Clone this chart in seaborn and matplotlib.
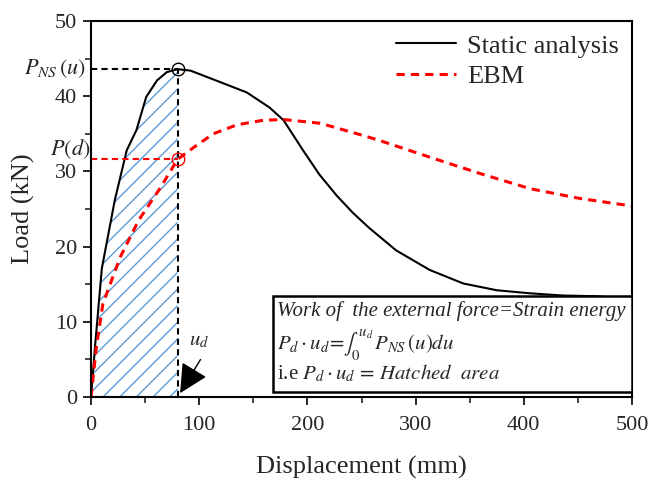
import matplotlib
matplotlib.use('Agg')
import matplotlib.pyplot as plt
import seaborn as sns
import numpy as np
from matplotlib.patches import Rectangle

# Load-displacement curves
static_x = [0, 4, 10, 22, 33, 42, 51, 61, 70, 80, 92, 119, 144, 165, 178, 196, 211,
            227, 242, 257, 282, 313, 344, 375, 405, 436, 467, 492, 500]
static_y = [0, 7.2, 17.1, 26.2, 32.8, 35.5, 39.9, 42.1, 43.2, 43.6, 43.4, 41.9, 40.5,
            38.5, 36.8, 32.8, 29.6, 26.8, 24.5, 22.5, 19.5, 16.9, 15.1, 14.2, 13.8,
            13.5, 13.4, 13.1, 13.4]
ebm_x = [0, 5, 11, 27, 44, 64, 80, 95, 113, 135, 159, 178, 212, 251, 267, 313, 360,
         406, 452, 500]
ebm_y = [0, 6.7, 12.4, 18.6, 23.5, 27.8, 31.6, 33.2, 35.0, 36.2, 36.8, 36.9, 36.4,
         34.8, 34.1, 31.9, 29.7, 27.7, 26.4, 25.4]

u_d = 80
p_ns = 43.6
p_d = 31.6

sns.set_style('ticks')
plt.rcParams['font.family'] = ['Liberation Serif', 'DejaVu Serif']
plt.rcParams['mathtext.fontset'] = 'stix'
plt.rcParams['hatch.linewidth'] = 1.0

fig = plt.figure(figsize=(6.52, 4.82), dpi=100)
ax = fig.add_axes([0.1396, 0.1763, 0.8297, 0.7801])

# hatched area under the static curve up to u_d
sx = np.array(static_x)
sy = np.array(static_y)
mask = sx <= u_d
ax.fill_between(sx[mask], sy[mask], 0, facecolor='none', edgecolor='#5b9bd5',
                hatch='//', linewidth=0)

sns.lineplot(x=static_x, y=static_y, ax=ax, color='black', lw=1.5,
             label='Static analysis', sort=False)
sns.lineplot(x=ebm_x, y=ebm_y, ax=ax, color='red', lw=2.2,
             label='EBM', sort=False, dashes=False)
ax.lines[-1].set_dashes((2.7, 2.0))

# guide lines
ax.plot([0, u_d], [p_ns, p_ns], color='black', lw=1.5, dashes=(3, 2))
ax.plot([u_d, u_d], [0, p_ns], color='black', lw=1.5, dashes=(3, 2))
ax.plot([0, u_d], [p_d, p_d], color='red', lw=1.5, dashes=(3, 2))
ax.plot([u_d], [p_ns], marker='o', ms=9, mfc='none', mec='black', mew=1)
ax.plot([u_d], [p_d], marker='o', ms=9, mfc='none', mec='red', mew=1)

ax.text(-4, p_ns, r'$P_{NS}\,(u)$', fontsize=16, ha='right', va='center',
        clip_on=False)
ax.text(-1, p_d + 1.3, r'$P(d)$', fontsize=16, ha='right', va='center',
        clip_on=False)

ax.annotate('', xy=(81, 0.2), xytext=(102.5, 5.3),
            arrowprops=dict(arrowstyle='-|>,head_length=0.9,head_width=0.45',
                            color='black', lw=1, mutation_scale=20))
ax.text(100, 6.2, r'$u_d$', fontsize=15, ha='center', va='bottom')

# text box
ax.add_patch(Rectangle((168, 0.7), 332, 12.7, facecolor='white', edgecolor='black',
                       lw=1.8, zorder=3))
ax.text(172, 11.4, 'Work of  the external force=Strain energy', fontsize=15,
        style='italic', va='center', zorder=4)
ax.text(172, 6.9, r'$P_d\cdot u_d\!=\!\int_0^{u_d}\,P_{NS}\,(u)du$', fontsize=15,
        va='center', zorder=4)
ax.text(172, 3.2, r'i.e $P_d\cdot u_d\,=\,Hatched\ \ area$', fontsize=15,
        va='center', zorder=4)

ax.set_xlim(0, 500)
ax.set_ylim(0, 50)
ax.set_xticks(range(0, 501, 100))
ax.set_xticks(range(50, 501, 100), minor=True)
ax.set_yticks(range(0, 51, 10))
ax.set_yticks(range(5, 51, 10), minor=True)
ax.tick_params(axis='both', which='major', labelsize=16, direction='out',
               length=6, width=1.2, color='black')
ax.tick_params(axis='x', which='major', pad=8)
ax.tick_params(axis='y', which='major', pad=4)
ax.tick_params(axis='both', which='minor', direction='out', length=4, width=1.2)
for sp in ax.spines.values():
    sp.set_linewidth(1.5)
    sp.set_color('black')
    sp.set_visible(True)

ax.set_xlabel('Displacement (mm)', fontsize=19, labelpad=15)
ax.set_ylabel('Load (kN)', fontsize=19, labelpad=14)

leg = ax.legend(loc='upper right', frameon=False, fontsize=19, handlelength=2.3,
                handletextpad=0.4, labelspacing=0.25, borderaxespad=0.1)

fig.savefig('out.png', dpi=100)
